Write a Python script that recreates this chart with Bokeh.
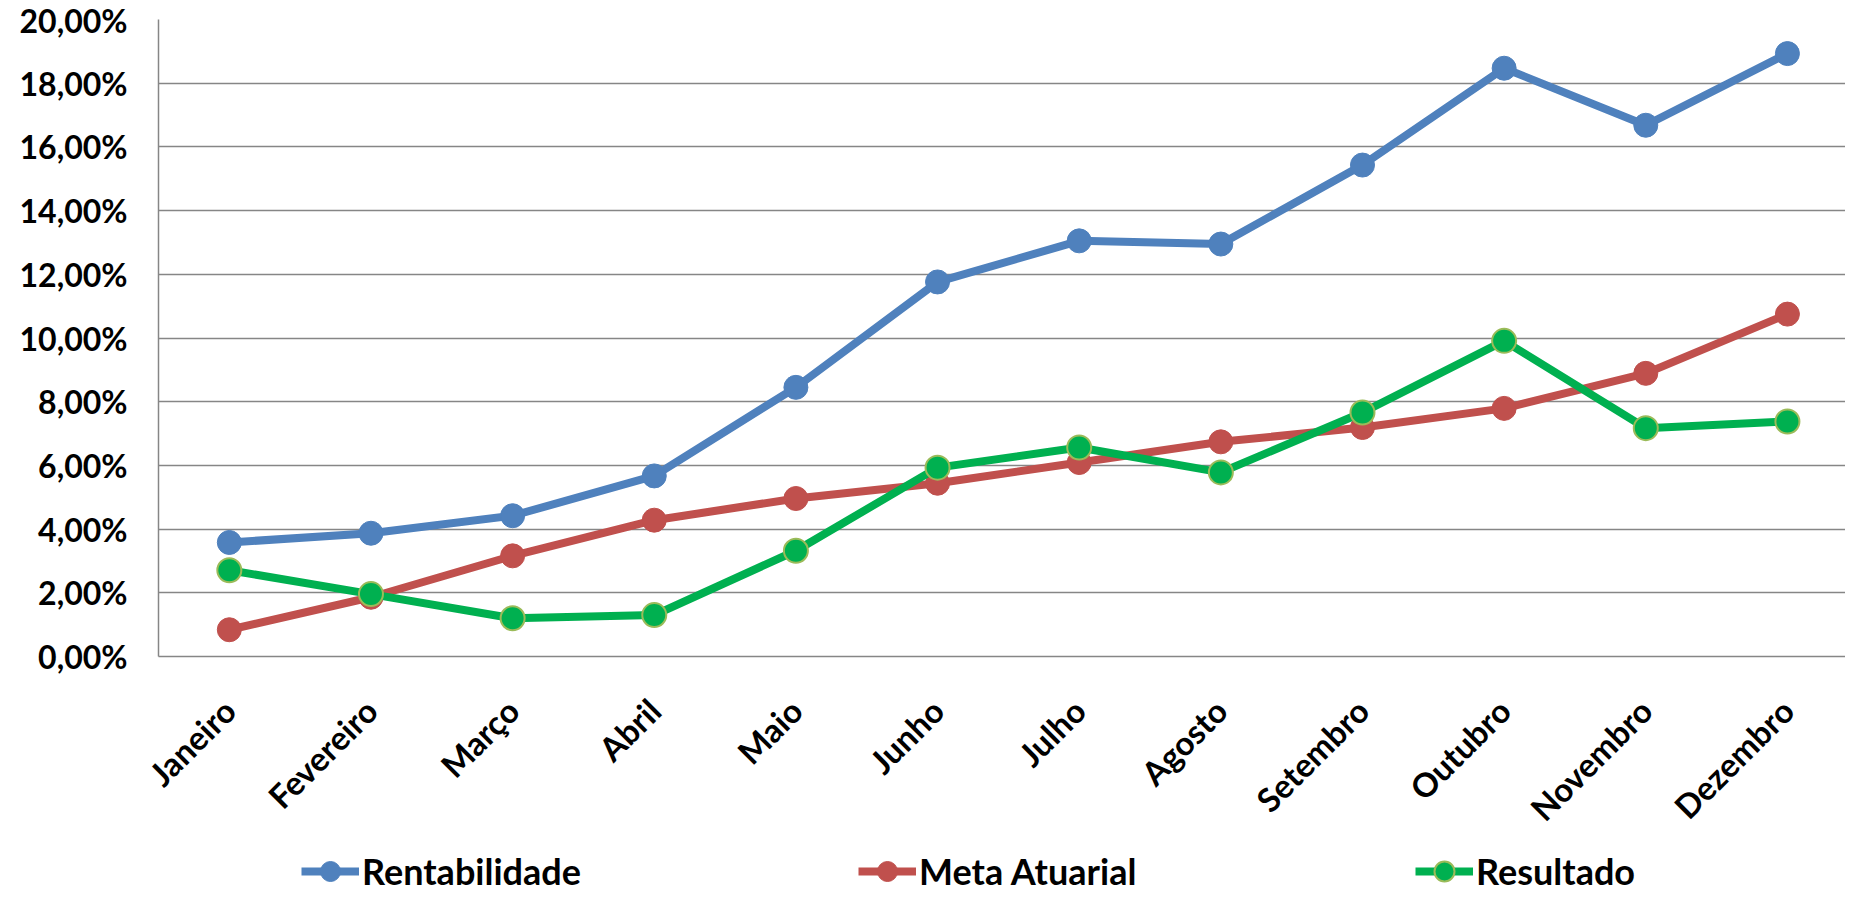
import math
from bokeh.plotting import figure
from bokeh.layouts import column
from bokeh.models import Range1d, FixedTicker, Legend, LegendItem
from bokeh.embed import file_html
from bokeh.resources import INLINE

months = ["Janeiro", "Fevereiro", "Março", "Abril", "Maio", "Junho",
          "Julho", "Agosto", "Setembro", "Outubro", "Novembro", "Dezembro"]
rentabilidade = [3.58, 3.87, 4.42, 5.67, 8.45, 11.76, 13.05, 12.95, 15.43, 18.47, 16.68, 18.93]
meta_atuarial = [0.84, 1.86, 3.16, 4.28, 4.96, 5.44, 6.09, 6.74, 7.19, 7.79, 8.89, 10.75]
resultado = [2.71, 1.96, 1.20, 1.30, 3.32, 5.93, 6.56, 5.78, 7.66, 9.91, 7.17, 7.38]
y_ticks = [0, 2, 4, 6, 8, 10, 12, 14, 16, 18, 20]
y_tick_labels = ["0,00%", "2,00%", "4,00%", "6,00%", "8,00%", "10,00%",
                 "12,00%", "14,00%", "16,00%", "18,00%", "20,00%"]
series_names = ["Rentabilidade", "Meta Atuarial", "Resultado"]

FONT = "Lato"
FS = "32px"
GRID = "#868686"

x = list(range(len(months)))

p = figure(width=1845, height=846, output_backend="svg", toolbar_location=None,
           x_range=Range1d(-0.5, 11.41), y_range=Range1d(0, 20),
           min_border_left=158, min_border_top=19, min_border_right=0,
           min_border_bottom=190)
p.outline_line_color = None
p.background_fill_color = "white"
p.border_fill_color = "white"

# grid
p.xgrid.grid_line_color = None
p.ygrid.ticker = FixedTicker(ticks=y_ticks)
p.ygrid.grid_line_color = GRID
p.ygrid.grid_line_width = 1.5

# y axis
p.yaxis.ticker = FixedTicker(ticks=y_ticks)
p.yaxis.major_label_overrides = {t: l for t, l in zip(y_ticks, y_tick_labels)}
p.yaxis.axis_line_color = GRID
p.yaxis.axis_line_width = 1.5
p.yaxis.major_tick_line_color = None
p.yaxis.minor_tick_line_color = None
p.yaxis.major_tick_out = 0
p.yaxis.major_label_standoff = 31
p.yaxis.major_label_text_font = FONT
p.yaxis.major_label_text_font_style = "bold"
p.yaxis.major_label_text_font_size = FS
p.yaxis.major_label_text_color = "black"

# x axis
p.xaxis.ticker = FixedTicker(ticks=x)
p.xaxis.major_label_overrides = {i: m for i, m in zip(x, months)}
p.xaxis.axis_line_color = GRID
p.xaxis.axis_line_width = 1.5
p.xaxis.major_tick_line_color = None
p.xaxis.minor_tick_line_color = None
p.xaxis.major_tick_out = 0
p.xaxis.major_label_standoff = 48
p.xaxis.major_label_orientation = math.pi / 4
p.xaxis.major_label_text_font = FONT
p.xaxis.major_label_text_font_style = "bold"
p.xaxis.major_label_text_font_size = "33px"
p.xaxis.major_label_text_color = "black"

styles = [
    (rentabilidade, "#4F81BD", "#4F81BD", 1),
    (meta_atuarial, "#C0504D", "#C0504D", 1),
    (resultado, "#00B050", "#9BBB59", 2),
]
for vals, col, outline, ow in styles:
    p.line(x, vals, line_width=8, line_color=col)
    p.scatter(x, vals, size=24, fill_color=col, line_color=outline, line_width=ow)

# legend strip below the chart (its series renderers sit outside its view)
lp = figure(width=1845, height=50, output_backend="svg", toolbar_location=None,
            x_range=Range1d(100, 101), y_range=Range1d(100, 101),
            min_border=0, min_border_left=0, min_border_right=0,
            min_border_top=0, min_border_bottom=0)
lp.axis.visible = False
lp.grid.visible = False
lp.outline_line_color = None
lp.background_fill_color = "white"
lp.border_fill_color = "white"

items = []
for name, (vals, col, outline, ow) in zip(series_names, styles):
    l = lp.line(x, vals, line_width=8, line_color=col)
    s = lp.scatter(x, vals, size=24, fill_color=col, line_color=outline, line_width=ow)
    items.append(LegendItem(label=name, renderers=[l, s]))

legend = Legend(items=items, location=(143, 0), orientation="horizontal",
                glyph_width=58, glyph_height=50, label_standoff=3,
                label_width=250, spacing=246,
                padding=0, margin=0, border_line_color=None,
                background_fill_alpha=0,
                label_text_font=FONT, label_text_font_style="bold",
                label_text_font_size="36px", label_text_color="black")
lp.add_layout(legend, "center")

layout = column(p, lp, spacing=0)
open("out.html", "w").write(file_html(layout, INLINE))
